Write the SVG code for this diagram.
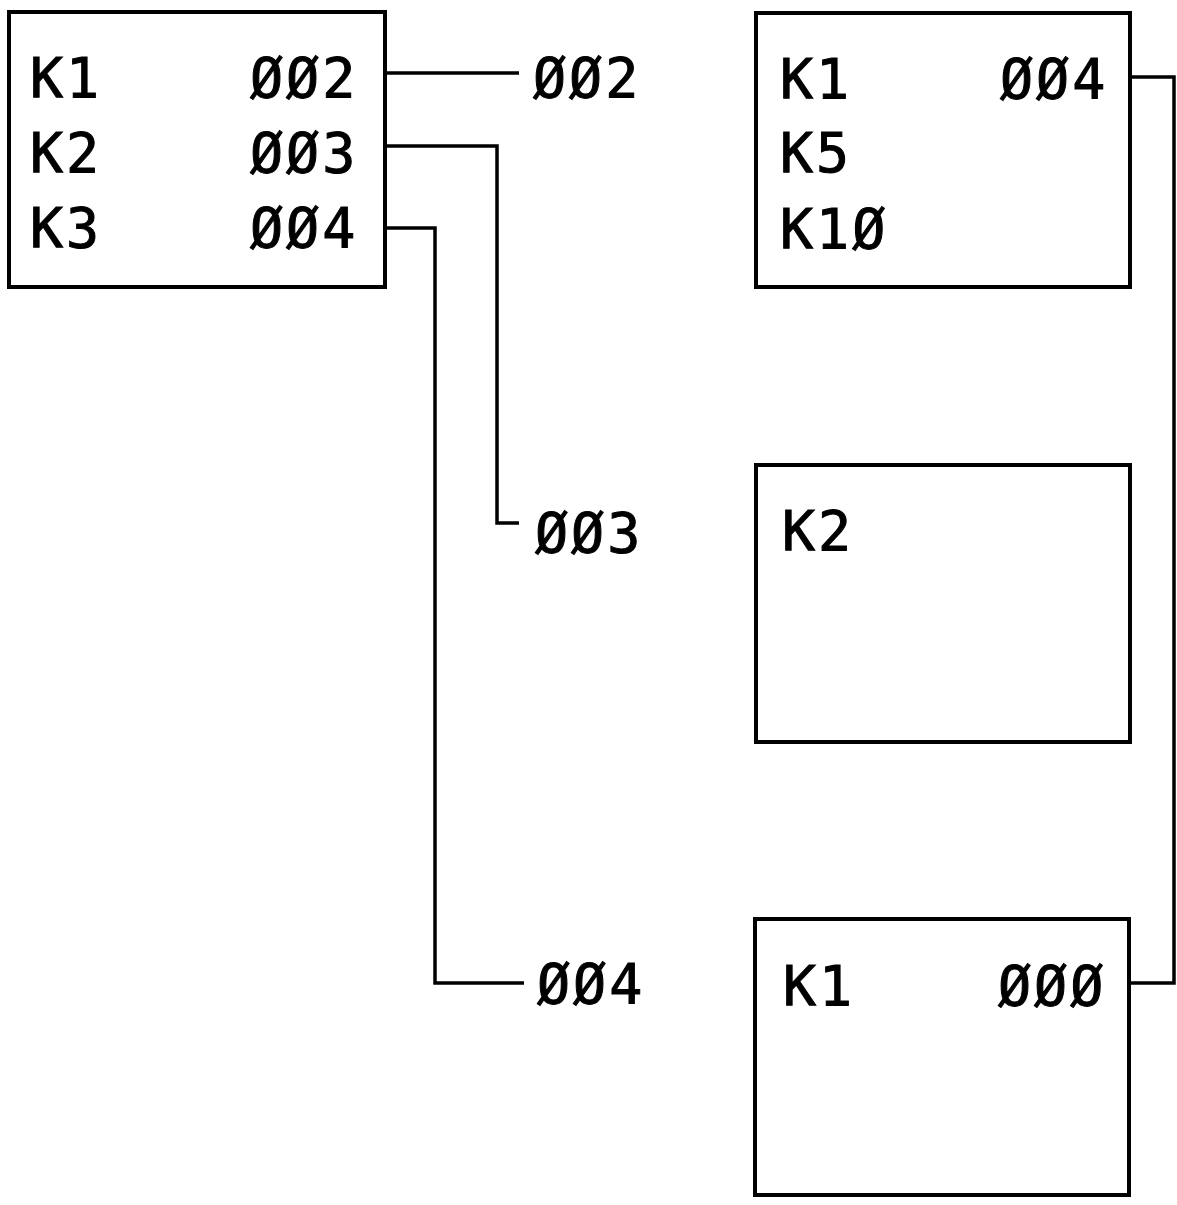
<svg xmlns="http://www.w3.org/2000/svg" width="1177" height="1205" viewBox="0 0 1177 1205">
<style>
.box{fill:none;stroke:#000;stroke-width:4}
.c{fill:none;stroke:#000;stroke-width:3.5}
text{font-family:"DejaVu Sans Mono","Liberation Mono",monospace;font-size:55px;letter-spacing:3px;fill:#000;stroke:#000;stroke-width:1}
</style>
<rect width="1177" height="1205" fill="#fff"/>
<g id="connectors">
<polyline class="c" points="385,73 519,73"/>
<polyline class="c" points="385,146 497,146 497,523 519,523"/>
<polyline class="c" points="385,228 435,228 435,983 524,983"/>
<polyline class="c" points="1130,77 1174,77 1174,983 1129,983"/>
</g>
<g id="nodeA">
<rect class="box" x="9" y="12" width="376" height="275"/>
<text x="30" y="97">K1</text>
<text x="250" y="97">ØØ2</text>
<text x="30" y="172">K2</text>
<text x="250" y="172">ØØ3</text>
<text x="30" y="247">K3</text>
<text x="250" y="247">ØØ4</text>
</g>
<g id="label002"><text x="533" y="97">ØØ2</text></g>
<g id="label003"><text x="535" y="552">ØØ3</text></g>
<g id="label004"><text x="537" y="1003">ØØ4</text></g>
<g id="nodeB">
<rect class="box" x="756" y="13" width="374" height="274"/>
<text x="780" y="98">K1</text>
<text x="1000" y="98">ØØ4</text>
<text x="780" y="172">K5</text>
<text x="780" y="248">K1Ø</text>
</g>
<g id="nodeC">
<rect class="box" x="756" y="465" width="374" height="277"/>
<text x="782" y="550">K2</text>
</g>
<g id="nodeD">
<rect class="box" x="755" y="919" width="374" height="276"/>
<text x="783" y="1005">K1</text>
<text x="998" y="1005">ØØØ</text>
</g>
</svg>
